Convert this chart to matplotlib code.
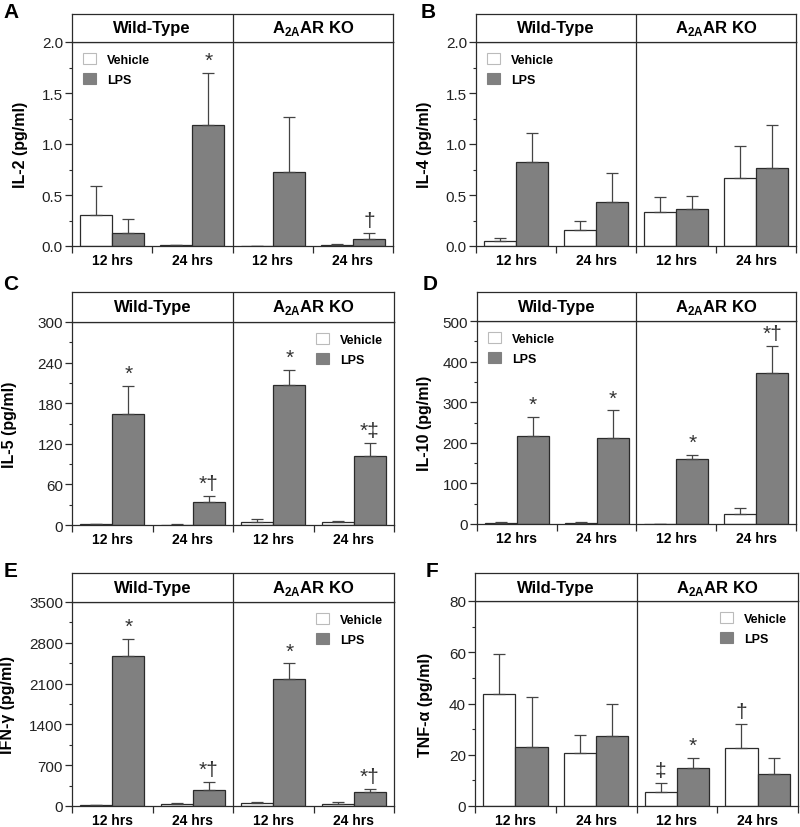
import matplotlib
matplotlib.use('Agg')
import matplotlib.pyplot as plt
import numpy as np
from matplotlib.patches import Patch
from matplotlib.ticker import MultipleLocator, AutoMinorLocator

plt.rcParams['font.family'] = ['Liberation Sans', 'DejaVu Sans']
plt.rcParams['mathtext.fontset'] = 'custom'
plt.rcParams['mathtext.rm'] = 'Liberation Sans'
plt.rcParams['mathtext.bf'] = 'Liberation Sans:bold'

groups = ['Wild-Type', r'A$_{\mathbf{2A}}$AR KO']
times = ['12 hrs', '24 hrs', '12 hrs', '24 hrs']

il2_veh = [0.30, 0.005, 0.0, 0.01]
il2_veh_err = [0.29, 0.005, 0.0, 0.01]
il2_lps = [0.13, 1.19, 0.73, 0.07]
il2_lps_err = [0.13, 0.51, 0.53, 0.06]

il4_veh = [0.05, 0.16, 0.33, 0.67]
il4_veh_err = [0.03, 0.09, 0.15, 0.31]
il4_lps = [0.82, 0.43, 0.36, 0.76]
il4_lps_err = [0.29, 0.29, 0.13, 0.43]

il5_veh = [1.0, 0.5, 5.0, 4.0]
il5_veh_err = [1.0, 0.5, 4.0, 2.0]
il5_lps = [164, 33.5, 207, 101.5]
il5_lps_err = [42, 9.5, 22, 20]

il10_veh = [2, 3, 0, 24.6]
il10_veh_err = [2, 2, 0, 14]
il10_lps = [215.6, 211, 160, 373]
il10_lps_err = [48.4, 69, 10.5, 65.5]

ifng_veh = [12, 29, 46, 40]
ifng_veh_err = [8, 28, 29, 29]
ifng_lps = [2582, 275, 2180, 241]
ifng_lps_err = [287, 138, 270, 46]

tnf_veh = [43.6, 20.7, 5.4, 22.8]
tnf_veh_err = [15.7, 7.2, 3.5, 9.1]
tnf_lps = [23.2, 27.5, 14.7, 12.4]
tnf_lps_err = [19.4, 12.2, 4.0, 6.5]

# (letter, ylabel, ymax, ystep, data, veh marks, lps marks, legend side,
#  box px: left, right, header top, data top, zero line, ylabel x, letter x, letter y)
panels = [
    ('A', 'IL-2 (pg/ml)', 2.0, 0.5,
     (il2_veh, il2_veh_err, il2_lps, il2_lps_err),
     ['', '', '', ''], ['', '*', '', '\u2020'], 'left',
     (72, 393, 15, 43, 247), 28, 11, 12),
    ('B', 'IL-4 (pg/ml)', 2.0, 0.5,
     (il4_veh, il4_veh_err, il4_lps, il4_lps_err),
     ['', '', '', ''], ['', '', '', ''], 'left',
     (476, 796, 15, 43, 247), 432, 428, 12),
    ('C', 'IL-5 (pg/ml)', 300, 60,
     (il5_veh, il5_veh_err, il5_lps, il5_lps_err),
     ['', '', '', ''], ['*', '*\u2020', '*', '*\u2021'], 'right',
     (72, 394, 293, 323, 526), 17, 11, 285),
    ('D', 'IL-10 (pg/ml)', 500, 100,
     (il10_veh, il10_veh_err, il10_lps, il10_lps_err),
     ['', '', '', ''], ['*', '*', '*', '*\u2020'], 'left',
     (477, 796, 293, 322, 525), 432, 430, 285),
    ('E', 'IFN-\u03b3 (pg/ml)', 3500, 700,
     (ifng_veh, ifng_veh_err, ifng_lps, ifng_lps_err),
     ['', '', '', ''], ['*', '*\u2020', '*', '*\u2020'], 'right',
     (72, 394, 574, 603, 807), 15, 11, 572),
    ('F', 'TNF-\u03b1 (pg/ml)', 80, 20,
     (tnf_veh, tnf_veh_err, tnf_lps, tnf_lps_err),
     ['', '', '\u2021', '\u2020'], ['', '', '*', ''], 'right',
     (475, 798, 574, 602, 807), 433, 432, 572),
]

W, H = 800, 828
fig = plt.figure(figsize=(8, 8.28), dpi=100)

edge = '#2b2b2b'
gray = '#808080'
pos = np.arange(4) + 0.5
bw = 0.4


def mark(ax, x, y, s):
    if s:
        ax.annotate(s, (x, y), xytext=(0, 2), textcoords='offset points',
                    ha='center', va='bottom', fontsize=15, color='#333333')


for (letter, ylab, ymax, ystep, data, vmarks, lmarks, legside,
     box, ylx, ltx, lty) in panels:
    l, r, ht, dt, z = box
    veh, veh_err, lps, lps_err = data
    ax = fig.add_axes([l / W, 1 - z / H, (r - l) / W, (z - dt) / H])
    hx = fig.add_axes([l / W, 1 - dt / H, (r - l) / W, (dt - ht) / H])

    ax.bar(pos - bw / 2, veh, bw, color='white', edgecolor=edge, lw=0.9,
           yerr=[np.zeros(4), veh_err], capsize=4.5,
           error_kw=dict(ecolor='#444444', elinewidth=0.9, capthick=0.9))
    ax.bar(pos + bw / 2, lps, bw, color=gray, edgecolor=edge, lw=0.9,
           yerr=[np.zeros(4), lps_err], capsize=4.5,
           error_kw=dict(ecolor='#444444', elinewidth=0.9, capthick=0.9))
    for i in range(4):
        mark(ax, pos[i] - bw / 2, veh[i] + veh_err[i], vmarks[i])
        mark(ax, pos[i] + bw / 2, lps[i] + lps_err[i], lmarks[i])

    ax.axvline(2, color=edge, lw=0.9)
    ax.set_xlim(0, 4)
    ax.set_ylim(0, ymax)
    ax.yaxis.set_major_locator(MultipleLocator(ystep))
    ax.yaxis.set_minor_locator(AutoMinorLocator(2))
    if ystep < 1:
        ax.yaxis.set_major_formatter(plt.FormatStrFormatter('%.1f'))
    ax.set_xticks([0, 1, 2, 3, 4])
    ax.set_xticklabels([])
    ax.set_xticks(pos, minor=True)
    ax.set_xticklabels(times, minor=True, fontweight='bold', fontsize=10)
    ax.tick_params(axis='x', which='major', direction='out', length=5,
                   width=0.9, color=edge)
    ax.tick_params(axis='x', which='minor', length=0, pad=5)
    ax.tick_params(axis='y', which='major', direction='out', length=5,
                   width=0.9, color=edge, labelsize=11, pad=1.5,
                   labelcolor='#222222')
    ax.tick_params(axis='y', which='minor', direction='out', length=2.5,
                   width=0.8, color=edge)
    for s in ax.spines.values():
        s.set_color(edge)
        s.set_linewidth(0.9)
    ax.set_ylabel(ylab, fontweight='bold', fontsize=11.5)
    ax.yaxis.set_label_coords((ylx - l) / (r - l), 0.5)

    hx.set_xlim(0, 4)
    hx.set_ylim(0, 1)
    hx.set_xticks([])
    hx.set_yticks([])
    hx.axvline(2, color=edge, lw=0.9)
    for s in hx.spines.values():
        s.set_color(edge)
        s.set_linewidth(0.9)
    hx.text(1, 0.5, groups[0], ha='center', va='center', fontweight='bold',
            fontsize=12)
    hx.text(3, 0.5, groups[1], ha='center', va='center', fontweight='bold',
            fontsize=12)

    handles = [Patch(facecolor='white', edgecolor='#bbbbbb', lw=0.8),
               Patch(facecolor=gray, edgecolor=gray, lw=0.8)]
    if legside == 'left':
        loc, anchor = 'upper left', (0.0, 1.0)
    else:
        loc, anchor = 'upper right', (1.0, 1.0)
    leg = ax.legend(handles, ['Vehicle', 'LPS'], loc=loc,
                    bbox_to_anchor=anchor, handlelength=1.0,
                    handleheight=1.0, handletextpad=0.9, labelspacing=0.55,
                    frameon=False, prop=dict(weight='bold', size=9))

    fig.text(ltx / W, 1 - lty / H, letter, ha='center', va='center',
             fontweight='bold', fontsize=15)

fig.savefig('out.png', dpi=100)
